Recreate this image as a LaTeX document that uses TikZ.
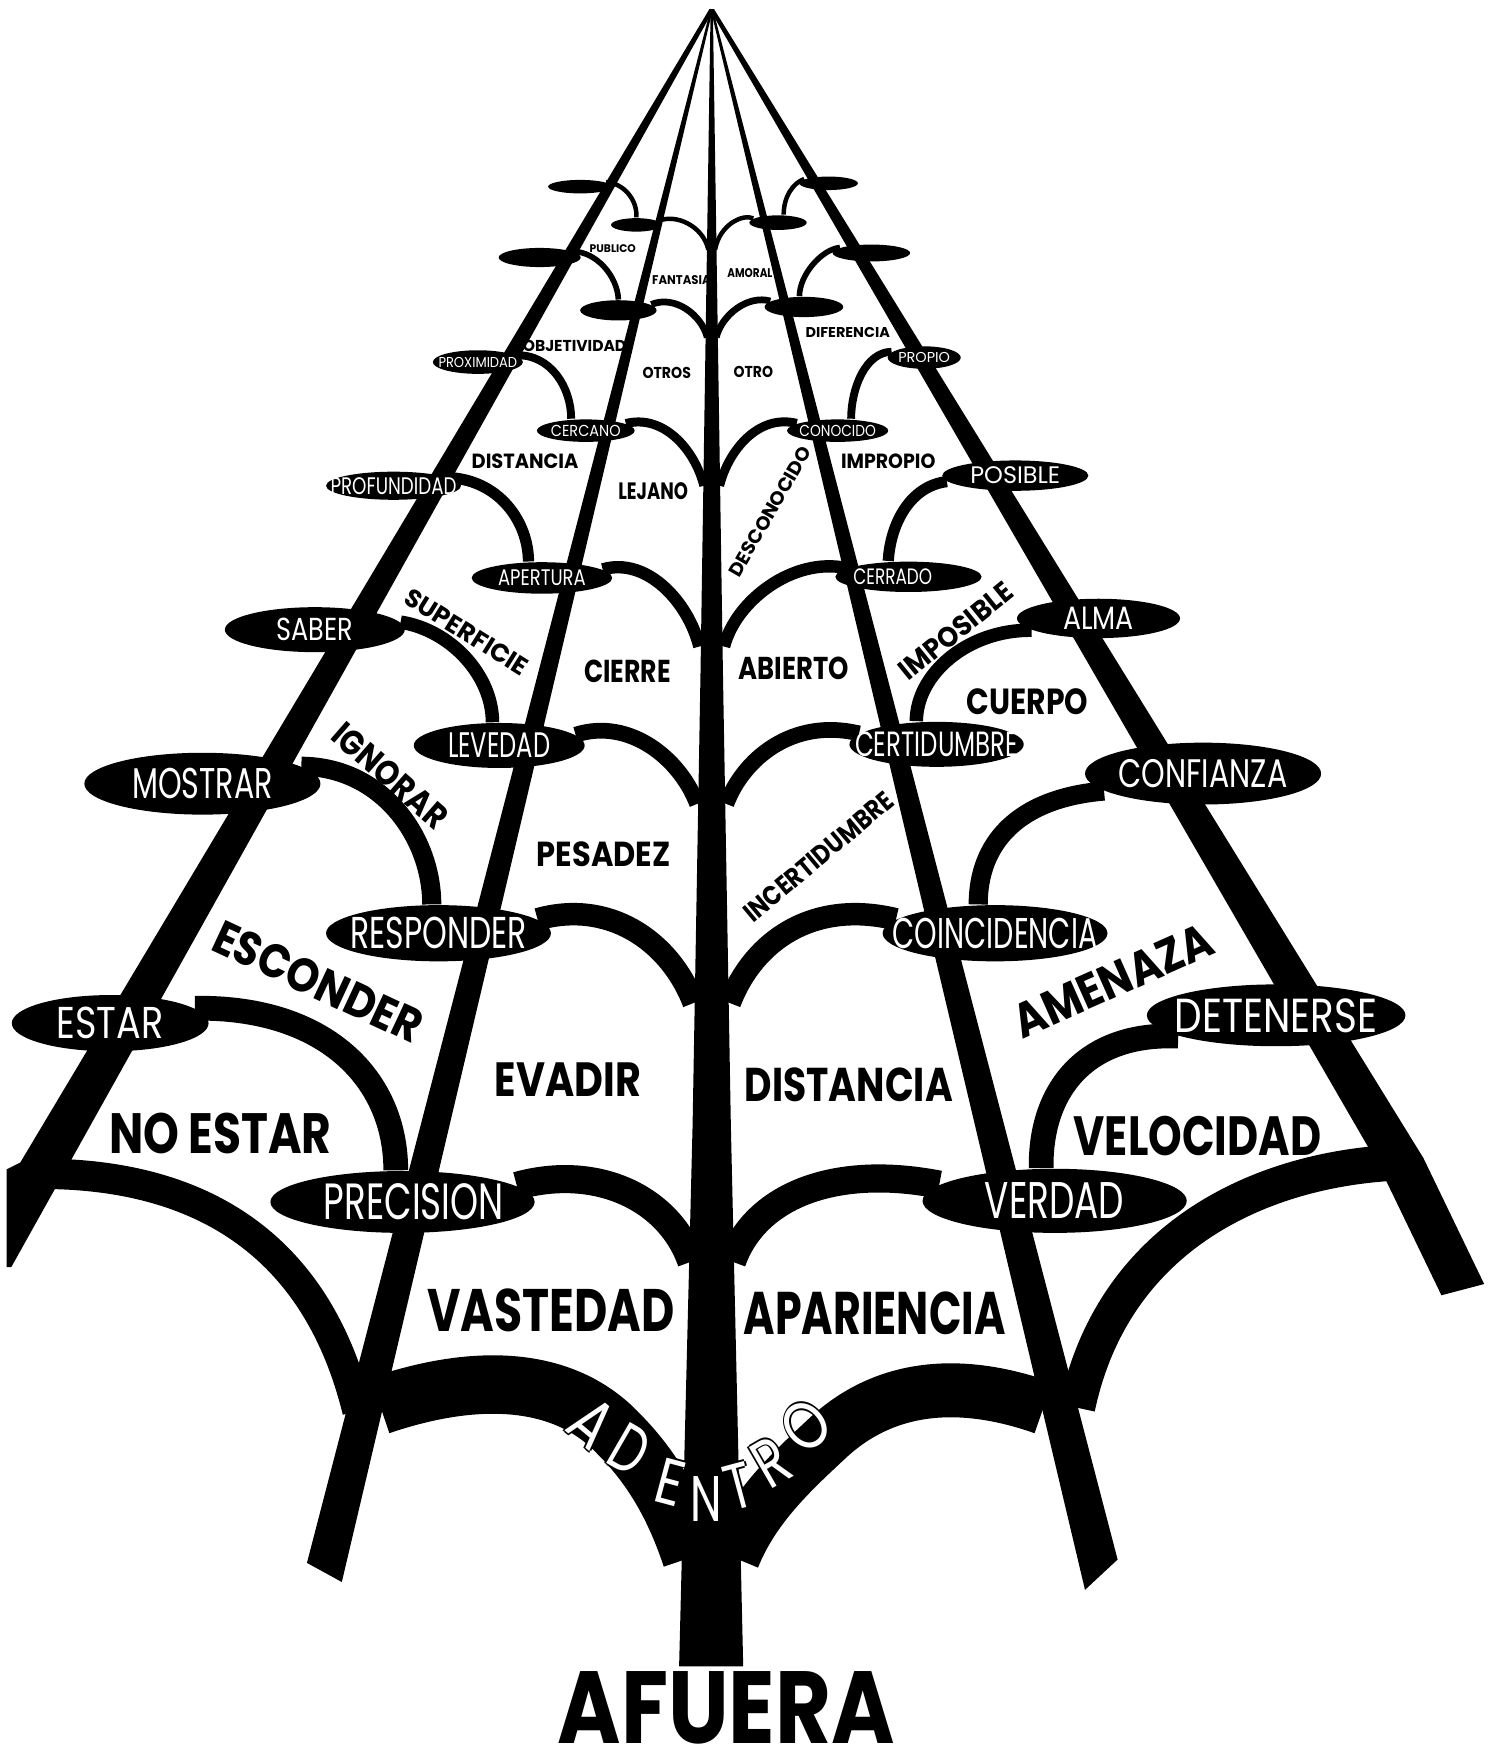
\documentclass[tikz,border=0pt]{standalone}
\usepackage{fontspec}
\setmainfont{Poppins}
\usepackage{graphicx}
\usetikzlibrary{shapes.geometric}
\newlength{\spx}
\setlength{\spx}{0.011245cm}
\newcommand{\fitto}[3]{\resizebox{#1\spx}{#2\spx}{\fontsize{\fpeval{0.457*#2}}{\fpeval{0.55*#2}}\selectfont #3}}
\pgfdeclarelayer{bg}
\pgfsetlayers{bg,main}

\begin{document}
\begin{tikzpicture}[x=0.011245cm,y=-0.011245cm,line cap=round,
  oval/.style={ellipse,fill=black,inner sep=0pt},
  intext/.style={inner sep=0pt,text=white},
  word/.style={inner sep=0pt,font=\bfseries},
  tw/.style={line width=#1\spx}]
\useasboundingbox (0,0) rectangle (1325,1568);
\clip (0,0) rectangle (1325,1568);

\node[oval,minimum width=57\spx,minimum height=12\spx] (e1l) at (516,166) {};
\node[oval,minimum width=45\spx,minimum height=12\spx] (e1il) at (566,200) {};
\node[oval,minimum width=52\spx,minimum height=12\spx] (e1r) at (737,163) {};
\node[oval,minimum width=51\spx,minimum height=13\spx] (e1ir) at (692,198) {};
\node[oval,minimum width=73\spx,minimum height=17\spx] (e2l) at (480,229) {};
\node[oval,minimum width=68\spx,minimum height=18\spx] (e2il) at (550,276) {};
\node[oval,minimum width=69\spx,minimum height=15\spx] (e2r) at (775,225) {};
\node[oval,minimum width=70\spx,minimum height=18\spx] (e2ir) at (715,273) {};
\node[oval,minimum width=80\spx,minimum height=21\spx,label={[intext]center:\fitto{70}{9}{PROXIMIDAD}}] (proximidad) at (425,322) {};
\node[oval,minimum width=87\spx,minimum height=20\spx,label={[intext]center:\fitto{62}{10}{CERCANO}}] (cercano) at (521,383) {};
\node[oval,minimum width=90\spx,minimum height=20\spx,label={[intext]center:\fitto{68}{10}{CONOCIDO}}] (conocido) at (745,383) {};
\node[oval,minimum width=65\spx,minimum height=20\spx,label={[intext]center:\fitto{46}{9}{PROPIO}}] (propio) at (822,318) {};
\node[oval,minimum width=120\spx,minimum height=25\spx,label={[intext]center:\fitto{112}{15}{PROFUNDIDAD}}] (profundidad) at (350,432) {};
\node[oval,minimum width=125\spx,minimum height=28\spx,label={[intext]center:\fitto{78}{14}{APERTURA}}] (apertura) at (482,514) {};
\node[oval,minimum width=130\spx,minimum height=27\spx,label={[intext,xshift=-14\spx]center:\fitto{70}{14}{CERRADO}}] (cerrado) at (808,513) {};
\node[oval,minimum width=130\spx,minimum height=27\spx,label={[intext]center:\fitto{80}{15}{POSIBLE}}] (posible) at (903,423) {};
\node[oval,minimum width=160\spx,minimum height=40\spx,label={[intext]center:\fitto{68}{20}{SABER}}] (saber) at (280,560) {};
\node[oval,minimum width=152\spx,minimum height=40\spx,label={[intext]center:\fitto{91}{22}{LEVEDAD}}] (levedad) at (444,663) {};
\node[oval,minimum width=155\spx,minimum height=40\spx,label={[intext]center:\fitto{145}{22}{CERTIDUMBRE}}] (certidumbre) at (833,662) {};
\node[oval,minimum width=145\spx,minimum height=35\spx,label={[intext]center:\fitto{63}{20}{ALMA}}] (alma) at (977,550) {};
\node[oval,minimum width=210\spx,minimum height=55\spx,label={[intext]center:\fitto{125}{27}{MOSTRAR}}] (mostrar) at (180,697) {};
\node[oval,minimum width=200\spx,minimum height=50\spx,label={[intext]center:\fitto{157}{28}{RESPONDER}}] (responder) at (390,830) {};
\node[oval,minimum width=200\spx,minimum height=50\spx,label={[intext]center:\fitto{182}{27}{COINCIDENCIA}}] (coincidencia) at (885,830) {};
\node[oval,minimum width=210\spx,minimum height=55\spx,label={[intext]center:\fitto{150}{25}{CONFIANZA}}] (confianza) at (1070,688) {};
\node[oval,minimum width=175\spx,minimum height=50\spx,label={[intext]center:\fitto{95}{28}{ESTAR}}] (estar) at (98,910) {};
\node[oval,minimum width=235\spx,minimum height=55\spx,label={[intext,xshift=10\spx]center:\fitto{160}{32}{PRECISION}}] (precision) at (358,1069) {};
\node[oval,minimum width=235\spx,minimum height=57\spx,label={[intext]center:\fitto{124}{32}{VERDAD}}] (verdad) at (938,1068) {};
\node[oval,minimum width=230\spx,minimum height=55\spx,label={[intext]center:\fitto{180}{30}{DETENERSE}}] (detenerse) at (1135,903) {};

\coordinate (j1l) at (630,222);
\coordinate (j1r) at (636,222);
\coordinate (j2l) at (629,300);
\coordinate (j2r) at (637,300);
\coordinate (j3l) at (626,432);
\coordinate (j3r) at (640,432);
\coordinate (j4l) at (622,575);
\coordinate (j4r) at (644,575);
\coordinate (j5l) at (620,715);
\coordinate (j5r) at (646,715);
\coordinate (j6l) at (617,892);
\coordinate (j6r) at (649,892);
\coordinate (j7l) at (615,1122);
\coordinate (j7r) at (651,1122);
\coordinate (j8l) at (615,1385);
\coordinate (j8r) at (652,1385);
\coordinate (a8l) at (30,1044);
\coordinate (a8r) at (1242,1034);
\coordinate (m8l) at (318,1255);
\coordinate (m8r) at (958,1252);
\coordinate (r8l) at (338,1250);
\coordinate (r8r) at (928,1252);

\begin{pgfonlayer}{bg}
\fill (631,8) -- (635,8) -- (10,1127) -- (6,1127) -- (6,1040) -- (18,1034) -- cycle;
\fill (631,8) -- (635,8) -- (1266,1030) -- (1320,1142) -- (1282,1152) -- (1226,1036) -- cycle;
\fill (632,8) -- (634,8) -- (304,1407) -- (273,1390) -- cycle;
\fill (632,8) -- (634,8) -- (994,1387) -- (965,1414) -- cycle;
\fill (632,8) -- (634,8) -- (643,600) -- (650,1000) -- (661,1482) -- (604,1482) -- (616,1000) -- (623,600) -- cycle;

\draw[tw=4] (e1l.10) .. controls (555,163) and (567,178) .. (e1il.north);
\draw[tw=5] (e2l.10) .. controls (530,224) and (549,245) .. (e2il.north);
\draw[tw=7] (proximidad.10) .. controls (490,315) and (508,345) .. ([xshift=-13\spx]cercano.north);
\draw[tw=10] (profundidad.8) .. controls (445,428) and (470,465) .. ([xshift=-12\spx]apertura.north);
\draw[tw=12] (saber.5) .. controls (400,560) and (438,600) .. ([xshift=-6\spx]levedad.north);
\draw[tw=17] (mostrar.10) .. controls (340,682) and (384,745) .. ([xshift=-6\spx]responder.north);
\draw[tw=22] (estar.10) .. controls (290,895) and (352,960) .. ([xshift=-6\spx]precision.north);

\draw[tw=4] (e1r.170) .. controls (705,163) and (697,175) .. ([xshift=5\spx]e1ir.north);
\draw[tw=5] (e2r.170) .. controls (730,222) and (711,245) .. ([xshift=-4\spx]e2ir.north);
\draw[tw=7] (propio.170) .. controls (770,313) and (757,345) .. ([xshift=12\spx]conocido.north);
\draw[tw=10] (posible.185) .. controls (810,432) and (792,465) .. ([xshift=-18\spx]cerrado.north);
\draw[tw=12] (alma.190) .. controls (860,560) and (815,600) .. ([xshift=-18\spx]certidumbre.north);
\draw[tw=17] (confianza.190) .. controls (905,710) and (870,750) .. ([xshift=-15\spx]coincidencia.north);
\draw[tw=22] (detenerse.192) .. controls (965,918) and (925,970) .. ([xshift=-12\spx]verdad.north);

\draw[tw=4] (e1il.10) .. controls (600,190) and (625,200) .. (j1l);
\draw[tw=6] (e2il.10) .. controls (600,262) and (624,280) .. (j2l);
\draw[tw=8] (cercano.10) .. controls (590,368) and (618,400) .. (j3l);
\draw[tw=11] (apertura.8) .. controls (575,495) and (612,535) .. (j4l);
\draw[tw=14] (levedad.8) .. controls (560,638) and (605,675) .. (j5l);
\draw[tw=20] (responder.8) .. controls (540,800) and (595,835) .. (j6l);
\draw[tw=25] (precision.8) .. controls (530,1035) and (595,1065) .. (j7l);

\draw[tw=4] (e1ir.170) .. controls (660,190) and (640,200) .. (j1r);
\draw[tw=6] (e2ir.170) .. controls (665,262) and (642,280) .. (j2r);
\draw[tw=8] (conocido.170) .. controls (675,368) and (648,400) .. (j3r);
\draw[tw=11] (cerrado.172) .. controls (705,495) and (654,535) .. (j4r);
\draw[tw=14] (certidumbre.172) .. controls (705,638) and (661,675) .. (j5r);
\draw[tw=20] (coincidencia.172) .. controls (725,800) and (671,835) .. (j6r);
\draw[tw=25] (verdad.172) .. controls (740,1035) and (671,1065) .. (j7r);

\draw[tw=27] (a8l) .. controls (170,1042) and (280,1100) .. (m8l);
\draw[tw=32] (a8r) .. controls (1120,1040) and (990,1100) .. (m8r);
\draw[tw=52] (r8l) .. controls (420,1222) and (500,1222) .. (550,1275) .. controls (580,1305) and (600,1340) .. (j8l);
\draw[tw=48] (r8r) .. controls (860,1228) and (790,1228) .. (735,1280) .. controls (705,1308) and (670,1340) .. (j8r);
\end{pgfonlayer}

\node[word] (publico) at (545,221) {\fitto{41}{7}{PUBLICO}};
\node[word] (fantasia) at (606,249) {\fitto{52}{8}{FANTASIA}};
\node[word] (amoral) at (667,243) {\fitto{40}{8}{AMORAL}};
\node[word] (objetividad) at (511,308) {\fitto{92}{10}{OBJETIVIDAD}};
\node[word] (diferencia) at (754,296) {\fitto{75}{9}{DIFERENCIA}};
\node[word] (otros) at (593,332) {\fitto{43}{10}{OTROS}};
\node[word] (otro) at (670,331) {\fitto{35}{10}{OTRO}};
\node[word] (distanciaA) at (467,410) {\fitto{95}{13}{DISTANCIA}};
\node[word] (lejano) at (581,437) {\fitto{62}{15}{LEJANO}};
\node[word] (impropio) at (790,410) {\fitto{84}{13}{IMPROPIO}};
\node[word,rotate=60] (desconocido) at (685,455) {\fitto{130}{12}{DESCONOCIDO}};
\node[word,rotate=-32] (superficie) at (415,562) {\fitto{125}{16}{SUPERFICIE}};
\node[word] (cierre) at (558,597) {\fitto{77}{20}{CIERRE}};
\node[word] (abierto) at (706,594) {\fitto{98}{20}{ABIERTO}};
\node[word,rotate=39] (imposible) at (850,561) {\fitto{122}{18}{IMPOSIBLE}};
\node[word] (cuerpo) at (914,624) {\fitto{108}{23}{CUERPO}};
\node[word,rotate=-41] (ignorar) at (347,690) {\fitto{125}{22}{IGNORAR}};
\node[word] (pesadez) at (537,760) {\fitto{119}{22}{PESADEZ}};
\node[word,rotate=40] (incertidumbre) at (728,762) {\fitto{165}{17}{INCERTIDUMBRE}};
\node[word,rotate=-25] (esconder) at (283,873) {\fitto{200}{30}{ESCONDER}};
\node[word,rotate=24] (amenaza) at (990,872) {\fitto{190}{30}{AMENAZA}};
\node[word] (evadir) at (505,960) {\fitto{130}{30}{EVADIR}};
\node[word] (distanciaB) at (755,965) {\fitto{185}{30}{DISTANCIA}};
\node[word] (noestar) at (196,1008) {\fitto{198}{36}{NO ESTAR}};
\node[word] (velocidad) at (1065,1010) {\fitto{220}{35}{VELOCIDAD}};
\node[word] (vastedad) at (490,1165) {\fitto{220}{38}{VASTEDAD}};
\node[word] (apariencia) at (778,1168) {\fitto{233}{38}{APARIENCIA}};
\node[word] (afuera) at (646,1519) {\fitto{300}{64}{AFUERA}};

\foreach \nm/\px/\py/\ang/\lw/\lh/\ch in {adA/527/1266/-40/32/42/A,adD/560/1289/-30/30/42/D,adE/596/1318/-15/24/40/E,adN/628/1333/0/28/40/N,adT/657/1322/15/24/40/T,adR/686/1300/30/28/42/R,adO/717/1268/40/38/42/O}{
  \foreach \dx/\dy in {1.5/0,-1.5/0,0/1.5,0/-1.5}
    \node[inner sep=0pt,rotate=\ang] at ([xshift=\dx\spx,yshift=\dy\spx]\px,\py) {\fitto{\lw}{\lh}{\ch}};
  \node[intext,rotate=\ang] (\nm) at (\px,\py) {\fitto{\lw}{\lh}{\ch}};
}
\end{tikzpicture}
\end{document}
